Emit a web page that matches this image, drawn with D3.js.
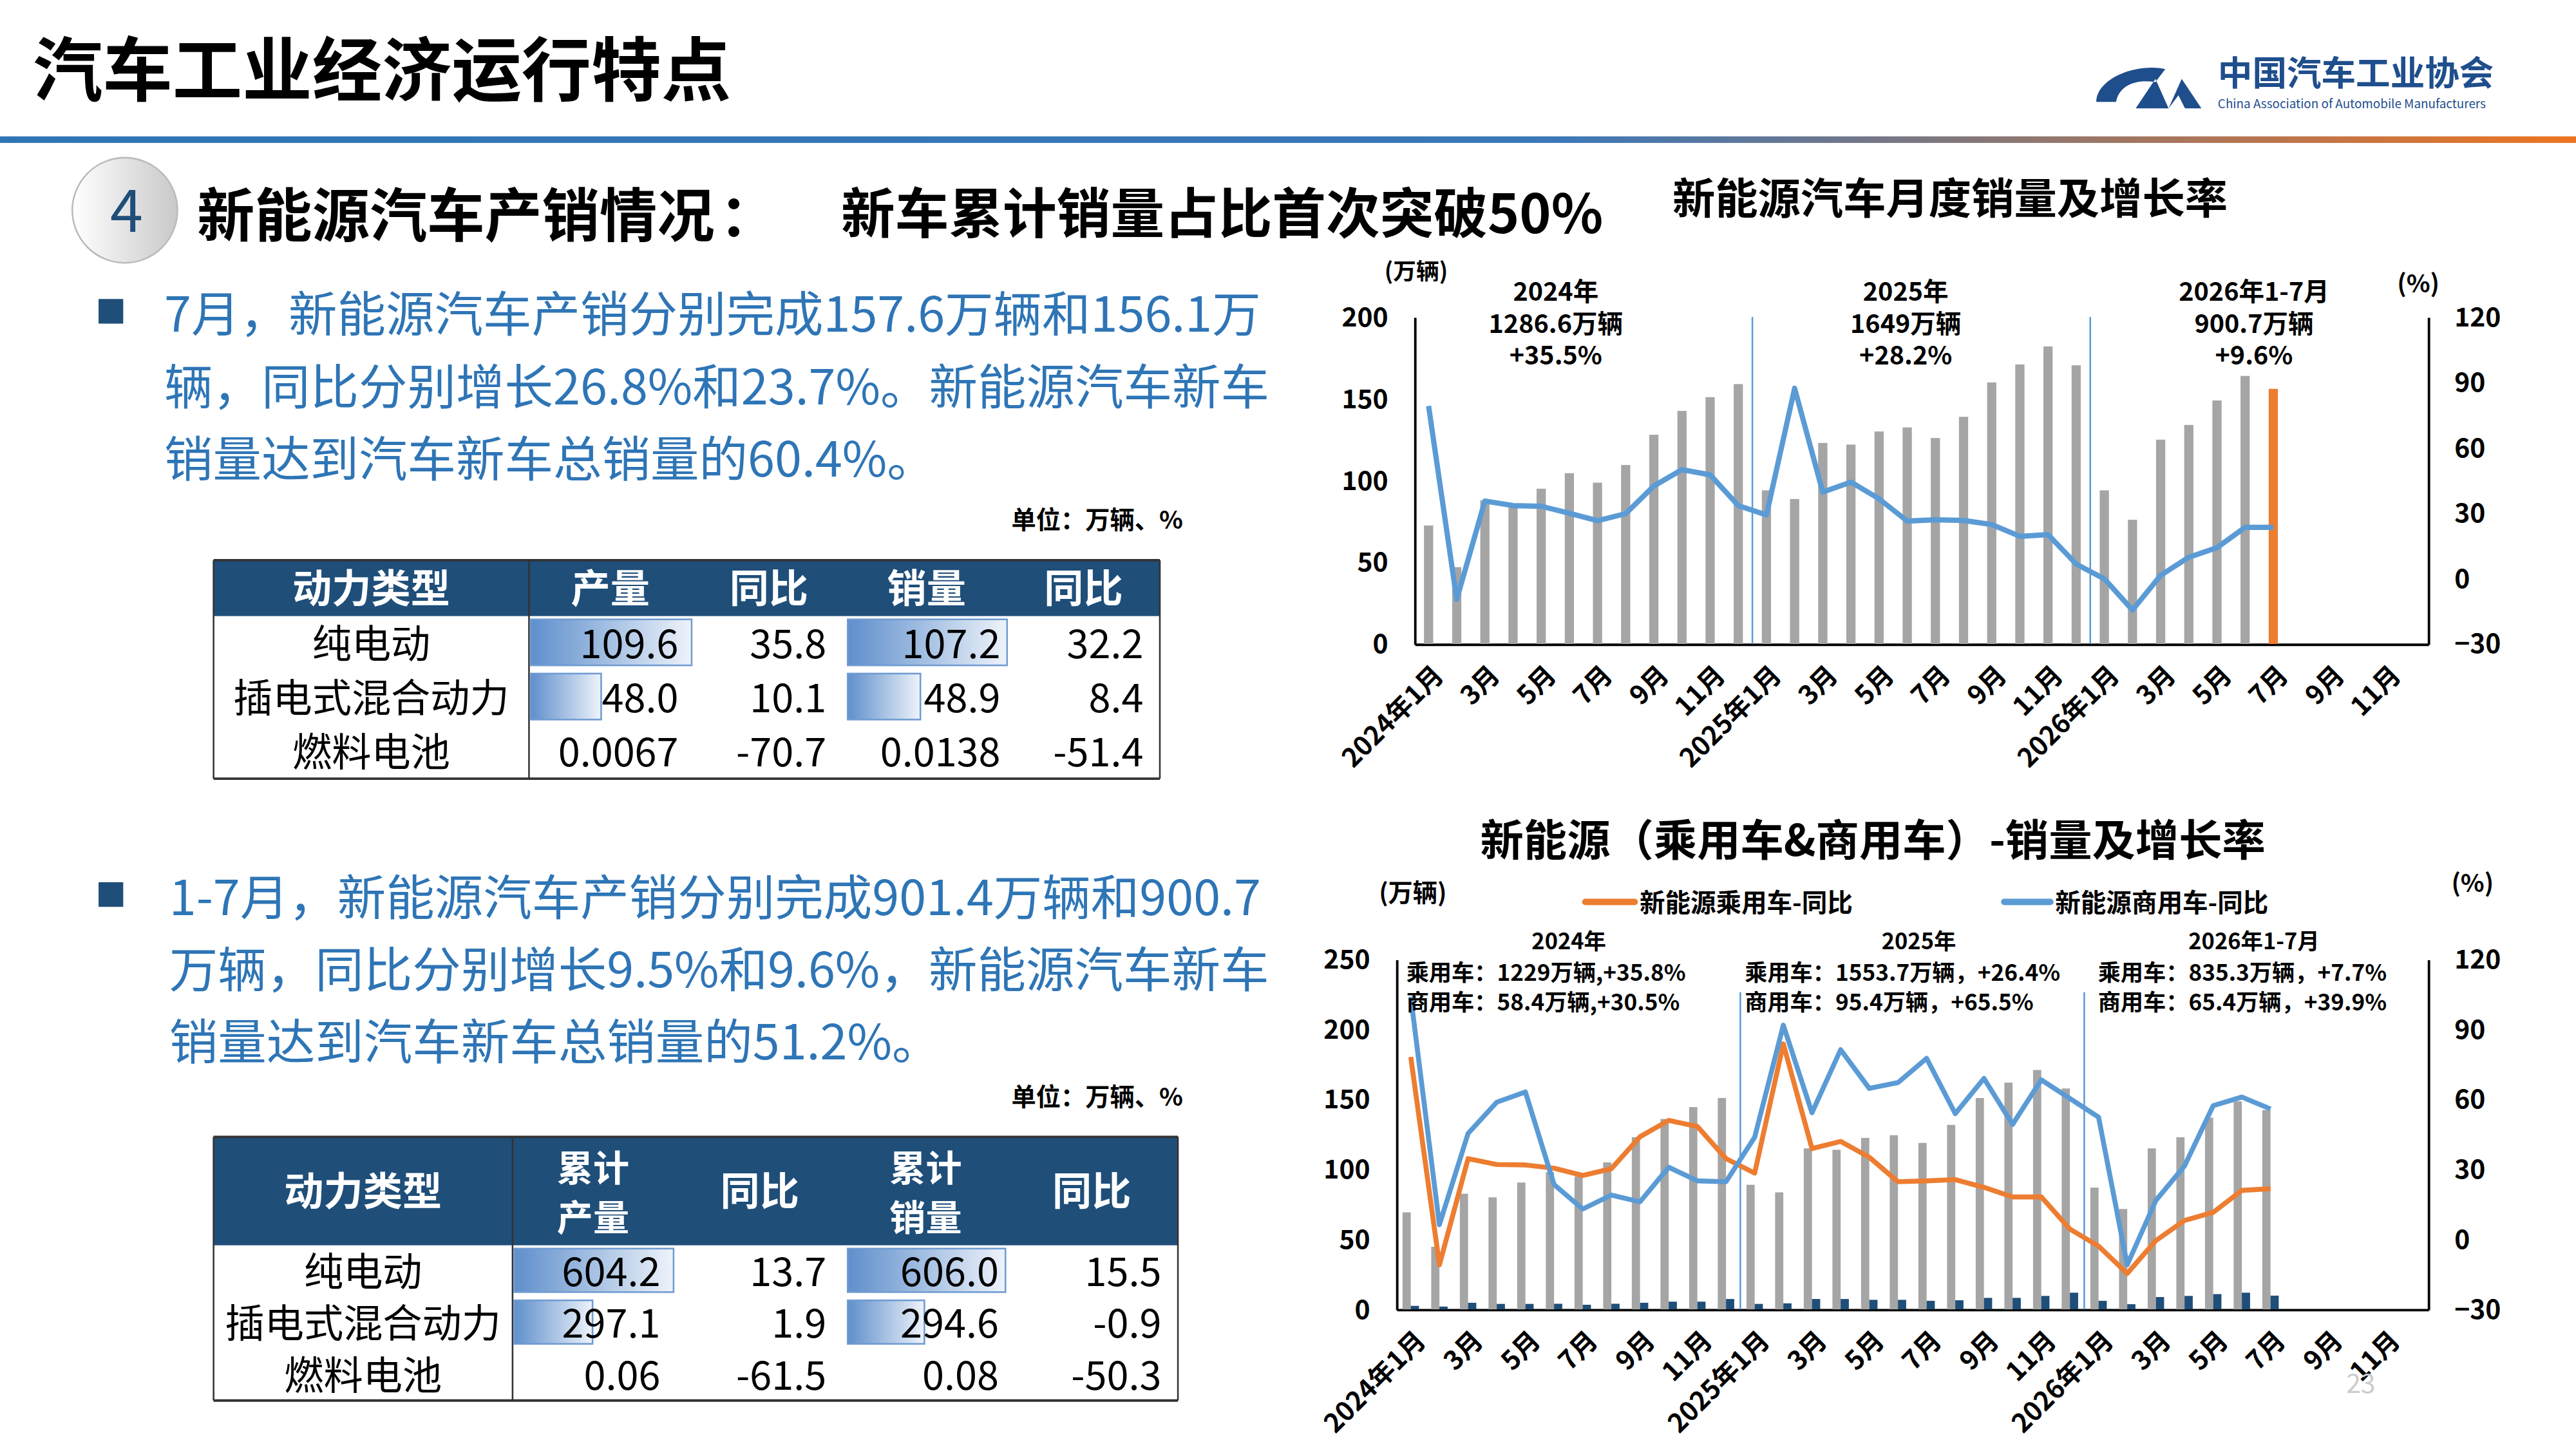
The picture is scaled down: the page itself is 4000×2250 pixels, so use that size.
<!DOCTYPE html>
<html><head><meta charset="utf-8">
<script src="https://cdn.jsdelivr.net/npm/d3@7"></script>
<style>body{margin:0;background:#fff}svg{display:block}text{font-family:"Noto Sans CJK SC","Noto Sans",sans-serif}</style>
</head><body><svg id="c" width="4000" height="2250" viewBox="0 0 1568 882"></svg>
<script>
// ---------- data ----------
const months = [];
["2024","2025","2026"].forEach(y=>{for(let m=1;m<=12;m++)months.push(y+"-"+m);});
const tickLabels = months.map(k=>{const [y,m]=k.split("-");return (+m%2===0)?"":(m==="1"?y+"年1月":m+"月");});
const nevSales = [72.5,47,88,84.5,95,104.5,98.7,109.5,128,142.6,151,159,
                  94,88.7,123,122,130,132.5,126,139,160,171,182,170.5,
                  94,76,125,134,149,164,156.1];
const nevGrowth = [79.2,-9.5,35.6,33.5,33.2,30,26.6,29.8,42.5,50,47.6,33.5,
                   29.2,87.3,39.7,44.3,36.6,26.4,27,26.7,24.8,19.4,20.2,6.7,
                   -0.1,-14.4,1.5,9.8,14.2,23.5,23.5];
const pvSales = [69.3,44.7,82.6,80,90.6,98,95,105,123,136,144.5,151,
                 89,83.6,115,114,122.5,124.4,118.9,131.8,151,162,171,157.8,
                 87,71.7,115,123,137,148.6,142.4];
const cvSales = [2.5,2,4.7,3.9,3.9,4,3.3,4,4.7,5.5,5.5,7.4,
                 3.9,4.3,7.4,7.4,6.8,6.8,6.1,6.5,8.2,8.2,9.6,11.9,
                 6.1,3.7,8.8,9.6,10.9,11.9,9.8];
const pvGrowth = [78.2,-10.9,34.6,32.1,31.9,30.5,27.4,30.3,44,51,48.4,34.6,
                  28.4,83.8,38.9,42,35.2,24.7,25.1,25.6,22.3,18.2,18.2,4.4,
                  -2.9,-14.6,-0.5,8.1,11.6,21,21.7];
const cvGrowth = [104,6.3,45.4,58.8,63.2,23.5,13,19,16.1,30.9,25.1,24.7,
                  43.8,91.8,54.3,81.3,64.7,67.2,77.6,53.9,69,49.3,68.4,60.4,
                  52.4,-10.9,16.7,31.5,57.3,61,55.9];
const leftTicks1=[0,50,100,150,200], rightTicks1=[-30,0,30,60,90,120];
const leftTicks2=[0,50,100,150,200,250], rightTicks2=[-30,0,30,60,90,120];
const table1Head=["动力类型","产量","同比","销量","同比"];
const table1Types=["纯电动","插电式混合动力","燃料电池"];
const table1Prod=[109.6,48.0,0.0067], table1ProdYoy=[35.8,10.1,-70.7];
const table1Sale=[107.2,48.9,0.0138], table1SaleYoy=[32.2,8.4,-51.4];
const table1Fmt=[["109.6","48.0","0.0067"],["107.2","48.9","0.0138"]];
const table2Head=["动力类型",["累计","产量"],"同比",["累计","销量"],"同比"];
const table2Prod=[604.2,297.1,0.06], table2ProdYoy=[13.7,1.9,-61.5];
const table2Sale=[606.0,294.6,0.08], table2SaleYoy=[15.5,-0.9,-50.3];
const table2Fmt=[["604.2","297.1","0.06"],["606.0","294.6","0.08"]];

const svg=d3.select("#c");
const defs=svg.append("defs");
const hg=defs.append("linearGradient").attr("id","hbar");
hg.append("stop").attr("offset","0").attr("stop-color","#2e75b6");
hg.append("stop").attr("offset","0.6").attr("stop-color","#3a78b8");
hg.append("stop").attr("offset","1").attr("stop-color","#ee7420");
const dg=defs.append("linearGradient").attr("id","dbar");
dg.append("stop").attr("offset","0").attr("stop-color","#5f8fcc");
dg.append("stop").attr("offset","1").attr("stop-color","#eef3fa");
const cg=defs.append("linearGradient").attr("id","circ").attr("x1",0).attr("x2",1);
cg.append("stop").attr("offset","0").attr("stop-color","#ffffff");
cg.append("stop").attr("offset","1").attr("stop-color","#c9c9c9");

const B="#000";
function txt(x,y,s,size,opt={}){return svg.append("text").attr("x",x).attr("y",y).text(s)
 .attr("font-size",size).attr("font-weight",opt.w||700).attr("fill",opt.c||B).attr("text-anchor",opt.a||"start");}

// header
txt(20,58,"汽车工业经济运行特点",42.5);
svg.append("path").attr("d","M1318,42 C1300,38 1276,48 1276,62 L1288,62 C1290,52 1300,48 1312,50 Z M1300,66 L1312,48 L1320,66 L1328,48 L1340,66 L1330,66 L1326,58 L1320,66 Z").attr("fill","#1f4e8c");
txt(1350,52,"中国汽车工业协会",21,{c:"#1f4e8c"});
txt(1350,66,"China Association of Automobile Manufacturers",7.4,{c:"#1f4e8c",w:400});
svg.append("rect").attr("x",0).attr("y",83).attr("width",1568).attr("height",4).attr("fill","url(#hbar)");
svg.append("ellipse").attr("cx",76).attr("cy",128).attr("rx",32).attr("ry",32).attr("fill","url(#circ)").attr("stroke","#bbb");
txt(77,141,"4",36,{c:"#1f4e79",w:400,a:"middle"});
txt(120,144,"新能源汽车产销情况",35);
txt(438,144,"：",35);
txt(512,142,"新车累计销量占比首次突破50%",32.8);
txt(1018,130,"新能源汽车月度销量及增长率",26);

// bullets
const BL="#2e75b6";
svg.append("rect").attr("x",60).attr("y",182).attr("width",15).attr("height",15).attr("fill","#1f4e79");
["7月，新能源汽车产销分别完成157.6万辆和156.1万","辆，同比分别增长26.8%和23.7%。新能源汽车新车","销量达到汽车新车总销量的60.4%。"]
 .forEach((s,i)=>txt(100,202+i*44,s,29.6,{c:BL,w:400}));
svg.append("rect").attr("x",60).attr("y",537).attr("width",15).attr("height",15).attr("fill","#1f4e79");
["1-7月，新能源汽车产销分别完成901.4万辆和900.7","万辆，同比分别增长9.5%和9.6%，新能源汽车新车","销量达到汽车新车总销量的51.2%。"]
 .forEach((s,i)=>txt(103,557+i*44,s,29.6,{c:BL,w:400}));
txt(720,322,"单位：万辆、%",15,{a:"end"});
txt(720,673,"单位：万辆、%",15,{a:"end"});

// tables
function table(cfg){
 const {x0,cols,y0,hh,rh,head,types,prod,prodY,sale,saleY,fmt}=cfg;
 const W=cols[cols.length-1]-x0;
 svg.append("rect").attr("x",x0).attr("y",y0).attr("width",W).attr("height",hh).attr("fill","#1f4e79");
 head.forEach((h,i)=>{
  const cx=(cols[i]+cols[i+1])/2;
  if(Array.isArray(h)){h.forEach((s,j)=>txt(cx,y0+hh/2-6+j*30,s,22,{c:"#fff",a:"middle"}));}
  else txt(cx,y0+hh/2+9,h,24,{c:"#fff",a:"middle"});
 });
 const yEnd=y0+hh+rh*3;
 svg.append("line").attr("x1",x0).attr("x2",cols[5]).attr("y1",y0).attr("y2",y0).attr("stroke","#333").attr("stroke-width",1.5);
 svg.append("line").attr("x1",x0).attr("x2",cols[5]).attr("y1",yEnd).attr("y2",yEnd).attr("stroke","#333").attr("stroke-width",1.5);
 [x0,cols[1],cols[5]].forEach(x=>svg.append("line").attr("x1",x).attr("x2",x).attr("y1",y0).attr("y2",yEnd).attr("stroke","#333"));
 [prod,sale].forEach((arr,k)=>{
  const c0=cols[1+2*k], c1=cols[2+2*k];
  const sc=d3.scaleLinear().domain([0,d3.max(arr)]).range([0,c1-c0-1]);
  arr.forEach((v,r)=>{ if(sc(v)>1) svg.append("rect").attr("x",c0+1).attr("y",y0+hh+r*rh+2).attr("width",sc(v)).attr("height",rh-5)
    .attr("fill","url(#dbar)").attr("stroke","#6f9bd2"); });
 });
 types.forEach((t,r)=>{
  const y=y0+hh+r*rh+rh/2+9;
  txt((x0+cols[1])/2,y,t,24,{w:400,a:"middle"});
  txt(cols[2]-8,y,fmt[0][r],24,{w:400,a:"end"});
  txt(cols[3]-12,y,prodY[r].toFixed(1),24,{w:400,a:"end"});
  txt(cols[4]-4,y,fmt[1][r],24,{w:400,a:"end"});
  txt(cols[5]-10,y,saleY[r].toFixed(1),24,{w:400,a:"end"});
 });
}
table({x0:130,cols:[130,322,421,515,613,706],y0:341,hh:34,rh:33,head:table1Head,types:table1Types,
 prod:table1Prod,prodY:table1ProdYoy,sale:table1Sale,saleY:table1SaleYoy,fmt:table1Fmt});
table({x0:130,cols:[130,312,410,515,612,717],y0:692,hh:66,rh:31.5,head:table2Head,types:table1Types,
 prod:table2Prod,prodY:table2ProdYoy,sale:table2Sale,saleY:table2SaleYoy,fmt:table2Fmt});

// charts
function chart(cfg){
 const {L,R,T,Bt,lmax,lt,rt}=cfg;
 const x=d3.scaleBand().domain(months).range([L,R]);
 const y=d3.scaleLinear().domain([0,lmax]).range([Bt,T]);
 const yr=d3.scaleLinear().domain([-30,120]).range([Bt,T]);
 const g=svg.append("g");
 const la=g.append("g").attr("transform",`translate(${L},0)`).call(d3.axisLeft(y).tickValues(lt).tickSize(0).tickPadding(16));
 const ra=g.append("g").attr("transform",`translate(${R},0)`).call(d3.axisRight(yr).tickValues(rt).tickSize(0).tickPadding(16));
 [la,ra].forEach(a=>{a.select(".domain").attr("stroke","#000").attr("stroke-width",1.5);
   a.selectAll("text").attr("font-size",16).attr("font-weight",700).attr("fill","#000").attr("font-family","Noto Sans CJK SC");});
 const xa=g.append("g").attr("transform",`translate(0,${Bt})`).call(d3.axisBottom(x).tickSize(0).tickFormat((d,i)=>tickLabels[i]));
 xa.select(".domain").attr("stroke","#000").attr("stroke-width",1.5);
 xa.selectAll("text").attr("font-size",16).attr("font-weight",700).attr("fill","#000").attr("font-family","Noto Sans CJK SC")
   .attr("text-anchor","end").attr("transform","translate(4,14) rotate(-45)").attr("dy","0.35em");
 return {x,y,yr,g};
}
// top
const c1=chart({L:861,R:1478,T:193,Bt:392,lmax:200,lt:leftTicks1,rt:rightTicks1});
["2025-1","2026-1"].forEach(k=>c1.g.append("line").attr("x1",c1.x(k)).attr("x2",c1.x(k)).attr("y1",193).attr("y2",392).attr("stroke","#5b9bd5").attr("stroke-width",1));
const bw1=5.6;
c1.g.selectAll(".b1").data(nevSales).join("rect").attr("x",(d,i)=>c1.x(months[i])+c1.x.bandwidth()/2-bw1/2)
 .attr("width",bw1).attr("y",d=>c1.y(d)).attr("height",d=>392-c1.y(d)).attr("fill",(d,i)=>i===30?"#ed7d31":"#a5a5a5");
c1.g.append("path").datum(nevGrowth).attr("fill","none").attr("stroke","#5b9bd5").attr("stroke-width",3.2).attr("stroke-linejoin","round")
 .attr("d",d3.line().x((d,i)=>c1.x(months[i])+c1.x.bandwidth()/2).y(d=>c1.yr(d)));
txt(862,170,"(万辆)",14,{a:"middle"}); txt(1472,178,"(%)",15,{a:"middle"});
[[947,["2024年","1286.6万辆","+35.5%"]],[1160,["2025年","1649万辆","+28.2%"]],[1372,["2026年1-7月","900.7万辆","+9.6%"]]]
 .forEach(([cx,ls])=>ls.forEach((s,i)=>txt(cx,183+i*19.5,s,15.5,{a:"middle"})));

// bottom
txt(1140,521,"新能源（乘用车&商用车）-销量及增长率",26.4,{a:"middle"});
const c2=chart({L:850,R:1478,T:584,Bt:797,lmax:250,lt:leftTicks2,rt:rightTicks2});
["2025-1","2026-1"].forEach(k=>c2.g.append("line").attr("x1",c2.x(k)).attr("x2",c2.x(k)).attr("y1",604).attr("y2",797).attr("stroke","#5b9bd5").attr("stroke-width",1));
const bw2=5;
const cx2=i=>c2.x(months[i])+c2.x.bandwidth()/2;
c2.g.selectAll(".p").data(pvSales).join("rect").attr("x",(d,i)=>cx2(i)-bw2).attr("width",bw2)
 .attr("y",d=>c2.y(d)).attr("height",d=>797-c2.y(d)).attr("fill","#a5a5a5");
c2.g.selectAll(".cv").data(cvSales).join("rect").attr("x",(d,i)=>cx2(i)).attr("width",bw2)
 .attr("y",d=>c2.y(d)).attr("height",d=>797-c2.y(d)).attr("fill","#1f4e79");
c2.g.append("path").datum(pvGrowth).attr("fill","none").attr("stroke","#ed7d31").attr("stroke-width",3).attr("stroke-linejoin","round")
 .attr("d",d3.line().x((d,i)=>cx2(i)).y(d=>c2.yr(d)));
c2.g.append("path").datum(cvGrowth).attr("fill","none").attr("stroke","#5b9bd5").attr("stroke-width",3).attr("stroke-linejoin","round")
 .attr("d",d3.line().x((d,i)=>cx2(i)).y(d=>c2.yr(d)));
txt(860,549,"(万辆)",15,{a:"middle"}); txt(1505,543,"(%)",15,{a:"middle"});
svg.append("line").attr("x1",965).attr("x2",995).attr("y1",549).attr("y2",549).attr("stroke","#ed7d31").attr("stroke-width",4).attr("stroke-linecap","round");
txt(998,555,"新能源乘用车-同比",15.5);
svg.append("line").attr("x1",1220).attr("x2",1248).attr("y1",549).attr("y2",549).attr("stroke","#5b9bd5").attr("stroke-width",4).attr("stroke-linecap","round");
txt(1251,555,"新能源商用车-同比",15.5);
[[955,856,["2024年","乘用车：1229万辆,+35.8%","商用车：58.4万辆,+30.5%"]],
 [1168,1062,["2025年","乘用车：1553.7万辆，+26.4%","商用车：95.4万辆，+65.5%"]],
 [1372,1277,["2026年1-7月","乘用车：835.3万辆，+7.7%","商用车：65.4万辆，+39.9%"]]]
 .forEach(([cx,lx,ls])=>{txt(cx,578,ls[0],13.5,{a:"middle"});txt(lx,597,ls[1],13.8);txt(lx,615,ls[2],13.8);});
txt(1437,848,"23",16,{c:"#ccc",w:400,a:"middle"});
</script></body></html>
